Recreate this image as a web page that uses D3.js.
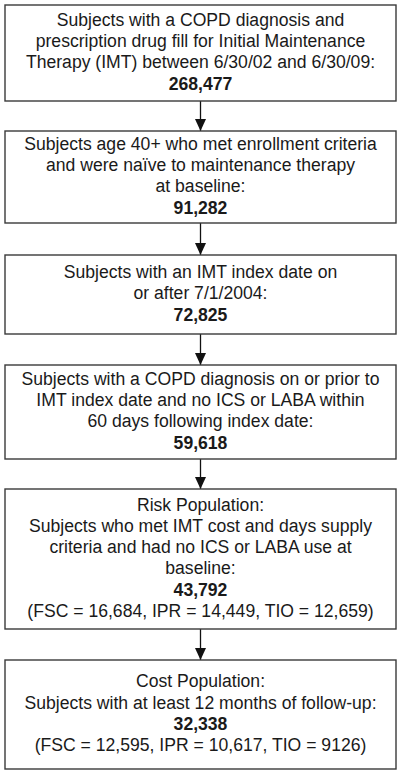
<!DOCTYPE html>
<html><head><meta charset="utf-8">
<script src="https://cdn.jsdelivr.net/npm/d3@7"></script>
<style>html,body{margin:0;padding:0;background:#fff}svg{display:block}</style>
</head><body>
<script>
// ---- data ----
const stepHeaders = [null, null, null, null, "Risk Population:", "Cost Population:"];
const stepLabels = [
  ["Subjects with a COPD diagnosis and", "prescription drug fill for Initial Maintenance", "Therapy (IMT) between 6/30/02 and 6/30/09:"],
  ["Subjects age 40+ who met enrollment criteria", "and were naïve to maintenance therapy", "at baseline:"],
  ["Subjects with an IMT index date on", "or after 7/1/2004:"],
  ["Subjects with a COPD diagnosis on or prior to", "IMT index date and no ICS or LABA within", "60 days following index date:"],
  ["Subjects who met IMT cost and days supply", "criteria and had no ICS or LABA use at", "baseline:"],
  ["Subjects with at least 12 months of follow-up:"]
];
const stepCounts = [268477, 91282, 72825, 59618, 43792, 32338];
const groupNames = ["FSC", "IPR", "TIO"];
const groupCounts = [null, null, null, null, [16684, 14449, 12659], [12595, 10617, 9126]];

// ---- layout ----
const W = 401, H = 775;
const boxTop =    [5, 131, 255, 365, 489, 660];
const boxBottom = [101, 223, 334, 459, 629, 769];
const x0 = 5, x1 = 396, cx = 200.5;
const lineH = 21.3, fontSize = 17.6;

const svg = d3.select("body").append("svg").attr("width", W).attr("height", H);
svg.append("defs").append("marker")
  .attr("id", "ah").attr("viewBox", "0 0 12 11").attr("refX", 12).attr("refY", 5.5)
  .attr("markerWidth", 12).attr("markerHeight", 11).attr("markerUnits", "userSpaceOnUse")
  .attr("orient", "auto")
  .append("path").attr("d", "M0,0L12,5.5L0,11Z").attr("fill", "#111");

const fmt = d3.format(",");
const fmtG = v => v >= 10000 ? fmt(v) : String(v);

const steps = stepCounts.map((c, i) => {
  const lines = [];
  if (stepHeaders[i]) lines.push({t: stepHeaders[i], b: false});
  stepLabels[i].forEach(t => lines.push({t, b: false}));
  lines.push({t: fmt(c), b: true});
  if (groupCounts[i]) lines.push({t: "(" + groupNames.map((g, j) => g + " = " + fmtG(groupCounts[i][j])).join(", ") + ")", b: false});
  return {i, lines, top: boxTop[i], bottom: boxBottom[i]};
});

// arrows
for (let i = 0; i < steps.length - 1; i++) {
  svg.append("line").attr("x1", cx).attr("x2", cx)
    .attr("y1", steps[i].bottom).attr("y2", steps[i + 1].top)
    .attr("stroke", "#111").attr("stroke-width", 1.3)
    .attr("marker-end", "url(#ah)");
}

const g = svg.selectAll("g.step").data(steps).join("g").attr("class", "step");
g.append("rect")
  .attr("x", x0).attr("y", d => d.top)
  .attr("width", x1 - x0).attr("height", d => d.bottom - d.top)
  .attr("fill", "#fff").attr("stroke", "#3a3a3a").attr("stroke-width", 1.4);

g.each(function(d) {
  const n = d.lines.length;
  const mid = (d.top + d.bottom) / 2 - 1.5;
  const first = mid - (n - 1) * lineH / 2;
  d3.select(this).selectAll("text").data(d.lines).join("text")
    .attr("x", cx).attr("y", (l, k) => first + k * lineH)
    .attr("dy", "0.36em")
    .attr("text-anchor", "middle")
    .attr("font-family", "Liberation Sans, Arial, sans-serif")
    .attr("font-size", fontSize)
    .attr("font-weight", l => l.b ? "bold" : "normal")
    .attr("fill", "#1a1a1a")
    .text(l => l.t);
});
</script>
</body></html>
